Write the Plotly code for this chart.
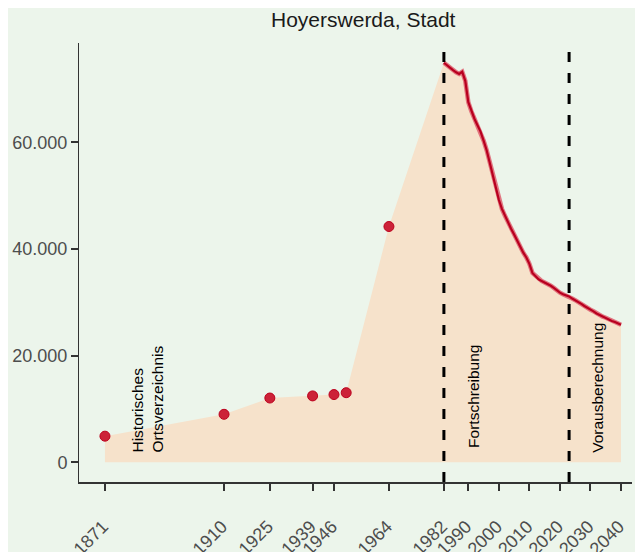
import plotly.graph_objects as go

# Historical census points (Historisches Ortsverzeichnis)
hist_years = [1871, 1910, 1925, 1939, 1946, 1950, 1964]
hist_values = [4900, 9000, 12050, 12450, 12700, 13050, 44200]

# Fortschreibung (continuous series)
fort_years = list(range(1982, 2023))
fort_values = [74900, 74400, 73900, 73500, 73100, 72800, 73200, 71500, 67500, 65800,
               64400, 63200, 62000, 60300, 58500, 56200, 53800, 51300, 49200, 47500,
               46200, 45000, 43800, 42700, 41500, 40300, 39300, 38400, 37200, 35500,
               34900, 34300, 34000, 33700, 33500, 33100, 32700, 32200, 31800, 31500,
               31300]

# Vorausberechnung (projection)
proj_years = list(range(2023, 2041))
proj_values = [31100, 30700, 30400, 30000, 29700, 29300, 29000, 28600, 28300, 27900,
               27600, 27300, 27100, 26800, 26500, 26300, 26000, 25800]

x_tickvals = [1871, 1910, 1925, 1939, 1946, 1964, 1982, 1990, 2000, 2010, 2020, 2030, 2040]
y_tickvals = [0, 20000, 40000, 60000]
y_ticktext = ["0", "20.000", "40.000", "60.000"]

section_lines = [1982, 2023]
section_labels = ["Historisches<br>Ortsverzeichnis", "Fortschreibung", "Vorausberechnung"]
section_label_x = [1885, 1991.5, 2032.3]
section_label_y = [1500, 2400, 1500]

FONT = "Liberation Sans, Arial, Helvetica, sans-serif"
BG = "#ECF5EB"

all_years = hist_years + fort_years + proj_years
all_values = hist_values + fort_values + proj_values
line_years = fort_years + proj_years
line_values = fort_values + proj_values

fig = go.Figure()
fig.add_trace(go.Scatter(x=all_years, y=all_values, mode="lines", fill="tozeroy",
                         fillcolor="#F6E2CB", line=dict(width=0), hoverinfo="skip",
                         showlegend=False))
fig.add_trace(go.Scatter(x=line_years, y=line_values, mode="lines",
                         line=dict(color="rgba(222,95,110,0.85)", width=4.5),
                         showlegend=False))
fig.add_trace(go.Scatter(x=line_years, y=line_values, mode="lines",
                         line=dict(color="#B8001F", width=2.2), showlegend=False))
fig.add_trace(go.Scatter(x=hist_years, y=hist_values, mode="markers",
                         marker=dict(color="#CC2238", size=10,
                                     line=dict(color="#BC001C", width=1)),
                         showlegend=False))

for xv in section_lines:
    fig.add_shape(type="line", xref="x", yref="paper", x0=xv, x1=xv, y0=0, y1=1,
                  line=dict(color="black", width=3, dash="10px,11px"))

for lab, xv, yv in zip(section_labels, section_label_x, section_label_y):
    fig.add_annotation(x=xv, y=yv, xref="x", yref="y", text=lab, showarrow=False,
                       textangle=-90, xanchor="center", yanchor="bottom", align="left",
                       font=dict(family=FONT, size=15.5, color="black"))

fig.update_layout(
    width=635, height=544,
    paper_bgcolor=BG, plot_bgcolor=BG,
    margin=dict(l=71, r=11, t=35, b=70, autoexpand=False),
    title=dict(text="Hoyerswerda, Stadt", x=0.514, xref="paper", y=0.978, yref="container",
               xanchor="center", yanchor="middle",
               font=dict(family=FONT, size=21, color="#1A1A1A")),
    font=dict(family=FONT),
    xaxis=dict(range=[1862.5, 2043.6], tickvals=x_tickvals, tickangle=-45,
               showgrid=False, zeroline=False, showline=True, linecolor="#333333",
               linewidth=2, ticks="outside", ticklen=7, tickwidth=2, tickcolor="#333333",
               ticklabelstandoff=18, ticklabelshift=-2,
               tickfont=dict(family=FONT, size=18, color="#4D4D4D")),
    yaxis=dict(range=[-3690, 78600], tickvals=y_tickvals, ticktext=y_ticktext,
               showgrid=False, zeroline=False, showline=True, linecolor="#333333",
               linewidth=1, ticks="outside", ticklen=7, tickwidth=2, tickcolor="#333333",
               tickfont=dict(family=FONT, size=18, color="#4D4D4D")),
)

fig.write_html("out.html")
